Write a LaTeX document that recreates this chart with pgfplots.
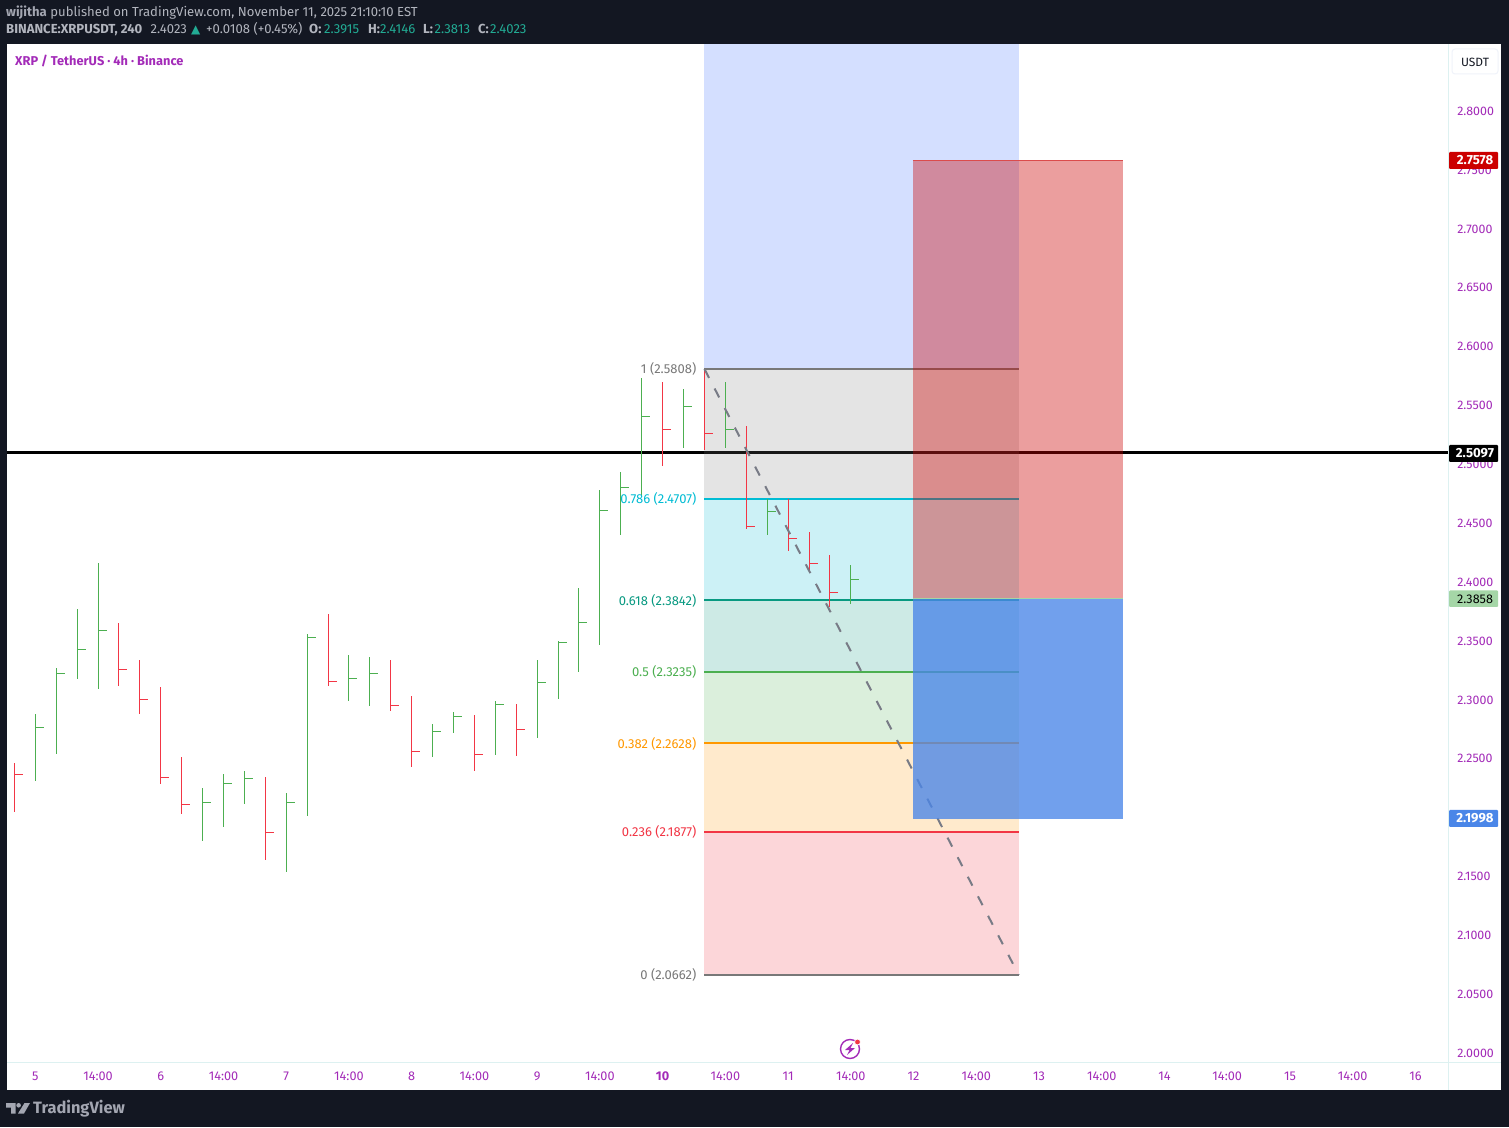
\documentclass[border=0pt]{standalone}
\usepackage{fontspec}
\usepackage{pgfplots}
\usepackage{pgfplotstable}
\pgfplotsset{compat=1.18}
\setmainfont{Fira Sans}
\newfontfamily\symfont{DejaVu Sans}
\definecolor{bgdark}{HTML}{131722}
\definecolor{tvpurple}{HTML}{A32BB8}
\definecolor{upgreen}{HTML}{4CAF50}
\definecolor{downred}{HTML}{F23645}
\definecolor{fibgray}{HTML}{787878}
\definecolor{fibcyan}{HTML}{00BCD4}
\definecolor{fibteal}{HTML}{089981}
\definecolor{fiborange}{HTML}{FF9800}
\definecolor{fibblue}{HTML}{2962FF}
\definecolor{posred}{HTML}{CC0000}
\definecolor{posblue}{HTML}{4A86E8}
\definecolor{poslight}{HTML}{A5D6A7}
\definecolor{sep}{HTML}{DDF1F1}
\definecolor{hdr}{HTML}{B2B5BE}
\definecolor{hteal}{HTML}{22AB94}
\definecolor{boxb}{HTML}{F0F3FA}
\definecolor{trend}{HTML}{787B86}
\pgfdeclareplotmark{closetick}{\pgfpathmoveto{\pgfqpoint{0pt}{0pt}}\pgfpathlineto{\pgfqpoint{8.5pt}{0pt}}\pgfusepathqstroke}
\pgfplotstableread{
i h l c
1 2.2875 2.2306 2.2762
2 2.3265 2.2535 2.3220
3 2.3766 2.3172 2.3424
4 2.4157 2.3087 2.3586
9 2.2246 2.1796 2.2125
10 2.2365 2.1915 2.2286
11 2.2391 2.2110 2.2329
13 2.2204 2.1533 2.2125
14 2.3554 2.2008 2.3526
16 2.3376 2.2985 2.3178
17 2.3359 2.2943 2.3220
20 2.2790 2.2510 2.2728
21 2.2892 2.2713 2.2855
23 2.2985 2.2527 2.2957
25 2.3333 2.2671 2.3144
26 2.3495 2.3002 2.3484
27 2.3945 2.3231 2.3653
28 2.4777 2.3461 2.4605
29 2.4930 2.4395 2.4800
30 2.5728 2.4718 2.5403
32 2.5635 2.5134 2.5488
34 2.5694 2.5134 2.5293
36 2.4701 2.4395 2.4596
40 2.4146 2.3813 2.4023
}\upbars
\pgfplotstableread{
i h l c
0 2.2459 2.2042 2.2363
5 2.3648 2.3112 2.3254
6 2.3333 2.2875 2.2999
7 2.3104 2.2280 2.2337
8 2.2510 2.2025 2.2108
12 2.2340 2.1635 2.1870
15 2.3724 2.3112 2.3152
18 2.3333 2.2900 2.2949
19 2.3028 2.2425 2.2558
22 2.2866 2.2391 2.2532
24 2.2960 2.2518 2.2745
31 2.5694 2.4981 2.5293
33 2.5805 2.5117 2.5259
35 2.5321 2.4446 2.4469
37 2.4701 2.4259 2.4367
38 2.4420 2.4081 2.4155
39 2.4225 2.3783 2.3908
}\downbars
\begin{document}
\begin{tikzpicture}[x=1pt,y=1pt,every node/.style={font=\fontsize{13}{15}\selectfont}]
\fill[bgdark] (0,0) rectangle (1509,1127);
\fill[white] (7,{1127-44}) rectangle (1501,{1127-1090});
\begin{axis}[
  at={(7pt,64.6pt)},anchor=south west,
  scale only axis,width=1441pt,height=1018pt,
  xmin=-0.354,xmax=68.56,ymin=1.99193,ymax=2.85647,
  axis x line*=bottom,axis y line*=right,
  axis line style={draw=sep,-},
  major tick length=0pt,minor tick length=0pt,
  xtick={1,4,...,67},
  xticklabels={5,14:00,6,14:00,7,14:00,8,14:00,9,14:00,\textbf{10},14:00,11,14:00,12,14:00,13,14:00,14,14:00,15,14:00,16},
  xticklabel style={font=\fontsize{12.7}{14}\selectfont,text=tvpurple,inner sep=0pt,anchor=center,yshift=-13.6pt},
  ytick={2,2.05,...,2.81},
  yticklabel style={font=\fontsize{12.4}{14}\selectfont,text=tvpurple,inner sep=0pt,anchor=west,xshift=9pt,yshift=-0.3pt,
    /pgf/number format/fixed,/pgf/number format/fixed zerofill,/pgf/number format/precision=4,/pgf/number format/assume math mode=true},
  scaled y ticks=false,
  tick label style={/pgf/number format/assume math mode=true},
  clip=true,
]
% horizontal line
\addplot[black,line width=2.6pt,forget plot] coordinates {(-0.354,2.5097)(68.56,2.5097)};
% fib fills
\addplot[draw=none,fill=fibblue,fill opacity=0.2,forget plot] coordinates {(33,2.8988)(48.03,2.8988)(48.03,2.5808)(33,2.5808)} --cycle;
\addplot[draw=none,fill=fibgray,fill opacity=0.2,forget plot] coordinates {(33,2.5808)(48.03,2.5808)(48.03,2.4707)(33,2.4707)} --cycle;
\addplot[draw=none,fill=fibcyan,fill opacity=0.2,forget plot] coordinates {(33,2.4707)(48.03,2.4707)(48.03,2.3842)(33,2.3842)} --cycle;
\addplot[draw=none,fill=fibteal,fill opacity=0.2,forget plot] coordinates {(33,2.3842)(48.03,2.3842)(48.03,2.3235)(33,2.3235)} --cycle;
\addplot[draw=none,fill=upgreen,fill opacity=0.2,forget plot] coordinates {(33,2.3235)(48.03,2.3235)(48.03,2.2628)(33,2.2628)} --cycle;
\addplot[draw=none,fill=fiborange,fill opacity=0.2,forget plot] coordinates {(33,2.2628)(48.03,2.2628)(48.03,2.1877)(33,2.1877)} --cycle;
\addplot[draw=none,fill=downred,fill opacity=0.2,forget plot] coordinates {(33,2.1877)(48.03,2.1877)(48.03,2.0662)(33,2.0662)} --cycle;
% fib lines
\addplot[fibgray,line width=2pt] coordinates {(33,2.5808)(48.03,2.5808)};
\addplot[fibcyan,line width=2pt] coordinates {(33,2.4707)(48.03,2.4707)};
\addplot[fibteal,line width=2pt] coordinates {(33,2.3842)(48.03,2.3842)};
\addplot[upgreen,line width=2pt] coordinates {(33,2.3235)(48.03,2.3235)};
\addplot[fiborange,line width=2pt] coordinates {(33,2.2628)(48.03,2.2628)};
\addplot[downred,line width=2pt] coordinates {(33,2.1877)(48.03,2.1877)};
\addplot[fibgray,line width=2pt] coordinates {(33,2.0662)(48.03,2.0662)};
% HLC bars
\addplot[only marks,mark=closetick,upgreen,line width=1pt,mark options={solid},
  error bars/.cd,y dir=both,y explicit,error mark=none,error bar style={upgreen,line width=1pt}]
  table[x=i,y=c,y error plus expr=\thisrow{h}-\thisrow{c},y error minus expr=\thisrow{c}-\thisrow{l}] {\upbars};
\addplot[only marks,mark=closetick,downred,line width=1pt,mark options={solid},
  error bars/.cd,y dir=both,y explicit,error mark=none,error bar style={downred,line width=1pt}]
  table[x=i,y=c,y error plus expr=\thisrow{h}-\thisrow{c},y error minus expr=\thisrow{c}-\thisrow{l}] {\downbars};
% trend line
\addplot[trend,line width=2pt,dash pattern=on 10pt off 12pt] coordinates {(33,2.5808)(48.03,2.0662)};
% position tool
\addplot[draw=none,fill=posred,fill opacity=0.38,forget plot] coordinates {(42.97,2.7578)(53,2.7578)(53,2.3858)(42.97,2.3858)} --cycle;
\addplot[draw=none,fill=posblue,fill opacity=0.78,forget plot] coordinates {(42.97,2.3858)(53,2.3858)(53,2.1985)(42.97,2.1985)} --cycle;
\addplot[posred!70!white,line width=1.4pt] coordinates {(42.97,2.7578)(53,2.7578)};
\addplot[poslight,line width=1.4pt] coordinates {(42.97,2.3858)(53,2.3858)};
% fib labels
\node[anchor=east,text=fibgray,inner sep=0pt,xshift=-8pt,yshift=-0.3pt] at (axis cs:33,2.5808) {1 (2.5808)};
\node[anchor=east,text=fibcyan,inner sep=0pt,xshift=-8pt,yshift=-0.3pt] at (axis cs:33,2.4707) {0.786 (2.4707)};
\node[anchor=east,text=fibteal,inner sep=0pt,xshift=-8pt,yshift=-0.3pt] at (axis cs:33,2.3842) {0.618 (2.3842)};
\node[anchor=east,text=upgreen,inner sep=0pt,xshift=-8pt,yshift=-0.3pt] at (axis cs:33,2.3235) {0.5 (2.3235)};
\node[anchor=east,text=fiborange,inner sep=0pt,xshift=-8pt,yshift=-0.3pt] at (axis cs:33,2.2628) {0.382 (2.2628)};
\node[anchor=east,text=downred,inner sep=0pt,xshift=-8pt,yshift=-0.3pt] at (axis cs:33,2.1877) {0.236 (2.1877)};
\node[anchor=east,text=fibgray,inner sep=0pt,xshift=-8pt,yshift=-0.3pt] at (axis cs:33,2.0662) {0 (2.0662)};
\end{axis}
% separators
\draw[sep,line width=1pt] (1448,{1127-1062}) -- (1501,{1127-1062});
\draw[sep,line width=1pt] (1448,{1127-1062}) -- (1448,{1127-1090});
% price tags
\fill[posred,rounded corners=1pt] (1449,{1127-152}) rectangle (1498,{1127-169});
\node[text=white,font=\fontsize{13.2}{15}\selectfont\bfseries,inner sep=0pt] at (1475,{1127-160.5}) {2.7578};
\fill[black,rounded corners=1pt] (1449,{1127-445}) rectangle (1498,{1127-462});
\node[text=white,font=\fontsize{13.2}{15}\selectfont\bfseries,inner sep=0pt] at (1475,{1127-453.5}) {2.5097};
\fill[poslight,rounded corners=1pt] (1449,{1127-590.5}) rectangle (1498,{1127-607});
\node[text=black,font=\fontsize{12.6}{15}\selectfont,inner sep=0pt] at (1475,{1127-599}) {2.3858};
\fill[posblue,rounded corners=1pt] (1449,{1127-810}) rectangle (1498,{1127-827});
\node[text=white,font=\fontsize{13.2}{15}\selectfont\bfseries,inner sep=0pt] at (1475,{1127-818.5}) {2.1998};
% unit box
\draw[boxb,line width=1pt,fill=white,rounded corners=3pt] (1452,{1127-49}) rectangle (1498,{1127-74});
\node[text=bgdark,inner sep=0pt,font=\fontsize{12}{14}\selectfont] at (1475,{1127-62}) {USDT};
% header
\tikzset{h/.style={anchor=base west,inner sep=0pt,text=hdr,font=\fontsize{13.1}{15}\selectfont}}
\node[h] at (6,{1127-17}) {\textcolor{hdr!120!white}{\textbf{wijitha}} published on TradingView.com, November 11, 2025 21:10:10 EST};
\node[h] at (6,{1127-34}) {\textbf{BINANCE:XRPUSDT, 240}};
\node[h] at (150.5,{1127-34}) {2.4023};
\node[h,text=hteal] at (191,{1127-34}) {{\symfont\fontsize{12}{14}\selectfont▲}};
\node[h] at (206,{1127-34}) {+0.0108 (+0.45\%)};
\node[h] at (309,{1127-34}) {\textbf{O:}};
\node[h,text=hteal] at (324,{1127-34}) {2.3915};
\node[h] at (368,{1127-34}) {\textbf{H:}};
\node[h,text=hteal] at (380,{1127-34}) {2.4146};
\node[h] at (423,{1127-34}) {\textbf{L:}};
\node[h,text=hteal] at (434.5,{1127-34}) {2.3813};
\node[h] at (478,{1127-34}) {\textbf{C:}};
\node[h,text=hteal] at (490,{1127-34}) {2.4023};
\node[anchor=west,inner sep=0pt,text=tvpurple,font=\fontsize{12.8}{15}\selectfont\bfseries] at (15,{1127-60.8}) {XRP / TetherUS · 4h · Binance};
% logo
\fill[hdr!120!white] (6,{1127-1103}) -- (15.5,{1127-1103}) -- (15.5,{1127-1113.5}) -- (11,{1127-1113.5}) -- (11,{1127-1107.5}) -- (6,{1127-1107.5}) -- cycle;
\fill[hdr!120!white] (18.6,{1127-1105.3}) circle (2.3);
\fill[hdr!120!white] (24.5,{1127-1103}) -- (30,{1127-1103}) -- (24,{1127-1113.5}) -- (18,{1127-1113.5}) -- cycle;
\node[anchor=base west,inner sep=0pt,text=hdr!120!white,font=\fontsize{16.4}{20}\selectfont\bfseries] at (33,{1127-1113.5}) {TradingView};
% lightning badge
\draw[tvpurple,line width=1.4pt] (850,{1127-1049}) circle (9.5);
\fill[tvpurple] (853,{1127-1043}) -- (845,{1127-1050}) -- (849.5,{1127-1050}) -- (847,{1127-1055}) -- (855,{1127-1048}) -- (850.5,{1127-1048}) -- cycle;
\fill[downred,draw=white,line width=0.8pt] (857.5,{1127-1042}) circle (3);
\end{tikzpicture}
\end{document}
